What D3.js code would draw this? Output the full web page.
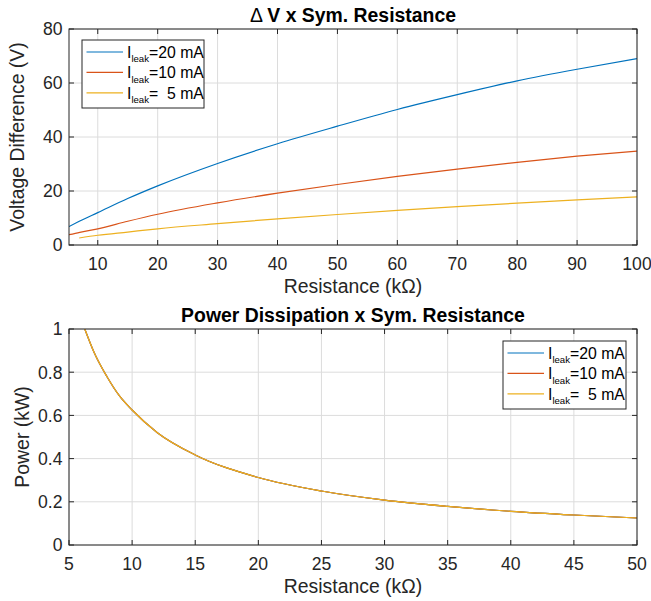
<!DOCTYPE html>
<html>
<head>
<meta charset="utf-8">
<script src="https://cdn.jsdelivr.net/npm/d3@7"></script>
<style>
  body { margin: 0; background: #fff; }
  svg { font-family: "Liberation Sans", Arial, sans-serif; }
</style>
</head>
<body>
<svg id="chart" width="651" height="601"></svg>
<script>
// top panel: voltage difference vs resistance (kOhm)
var rV = [5.2, 7, 10, 15, 20, 30, 40, 50, 60, 70, 80, 90, 100];
var v20 = [6.8, 8.9, 12.0, 17.2, 21.9, 30.2, 37.5, 44.0, 50.2, 55.7, 60.8, 65.1, 69.0];
var v10 = [3.8, 4.7, 6.0, 8.8, 11.4, 15.6, 19.2, 22.4, 25.4, 28.1, 30.6, 32.9, 34.8];
var rV5 = [6.9, 10, 15, 20, 30, 40, 50, 60, 70, 80, 90, 100];
var v5 = [2.6, 3.6, 4.8, 6.0, 7.9, 9.7, 11.3, 12.8, 14.2, 15.5, 16.7, 17.8];

// bottom panel: power (kW) vs resistance (kOhm)
var rP = [6.25, 7, 8, 9, 10, 12, 15, 20, 25, 30, 35, 40, 45, 50];
var p20 = [1.0, 0.89, 0.78, 0.69, 0.625, 0.52, 0.417, 0.3125, 0.25, 0.208, 0.179, 0.156, 0.139, 0.125];
var p10 = [1.0, 0.89, 0.78, 0.69, 0.625, 0.52, 0.417, 0.3125, 0.25, 0.208, 0.179, 0.156, 0.139, 0.125];
var p5  = [1.0, 0.89, 0.78, 0.69, 0.625, 0.52, 0.417, 0.3125, 0.25, 0.208, 0.179, 0.156, 0.139, 0.125];

var legendLabels = ["=20 mA", "=10 mA", "=  5 mA"];
var colors = ["#0072BD", "#D95319", "#EDB120"];

var topXTicks = [10, 20, 30, 40, 50, 60, 70, 80, 90, 100];
var topYTicks = [0, 20, 40, 60, 80];
var botXTicks = [5, 10, 15, 20, 25, 30, 35, 40, 45, 50];
var botYTicks = [0, 0.2, 0.4, 0.6, 0.8, 1];

var svg = d3.select("#chart");
var axisCol = "#262626";

function panel(opts) {
  var g = svg.append("g");
  var x = d3.scaleLinear().domain(opts.xDomain).range([opts.left, opts.right]);
  var y = d3.scaleLinear().domain(opts.yDomain).range([opts.bottom, opts.top]);

  // grid
  g.selectAll(".gx").data(opts.xTicks).enter().append("line")
    .attr("x1", d => x(d)).attr("x2", d => x(d))
    .attr("y1", opts.top).attr("y2", opts.bottom)
    .attr("stroke", "#dcdcdc").attr("stroke-width", 1);
  g.selectAll(".gy").data(opts.yTicks).enter().append("line")
    .attr("y1", d => y(d)).attr("y2", d => y(d))
    .attr("x1", opts.left).attr("x2", opts.right)
    .attr("stroke", "#dcdcdc").attr("stroke-width", 1);

  // clip
  var cid = "clip" + opts.id;
  svg.append("clipPath").attr("id", cid).append("rect")
    .attr("x", opts.left).attr("y", opts.top)
    .attr("width", opts.right - opts.left).attr("height", opts.bottom - opts.top);

  var line = d3.line().x(d => x(d[0])).y(d => y(d[1])).curve(d3.curveMonotoneX);
  opts.series.forEach(function(s, i) {
    var pts = s.xs.map((v, j) => [v, s.ys[j]]);
    g.append("path").attr("d", line(pts))
      .attr("fill", "none").attr("stroke", colors[i]).attr("stroke-width", 1.2)
      .attr("clip-path", "url(#" + cid + ")");
  });

  // axes (box with inward ticks)
  var tl = 5;
  var ax = g.append("g");
  ax.append("rect").attr("x", opts.left).attr("y", opts.top)
    .attr("width", opts.right - opts.left).attr("height", opts.bottom - opts.top)
    .attr("fill", "none").attr("stroke", axisCol).attr("stroke-width", 1);
  opts.xTicks.forEach(function(t) {
    ax.append("line").attr("x1", x(t)).attr("x2", x(t)).attr("y1", opts.bottom).attr("y2", opts.bottom - tl).attr("stroke", axisCol);
    ax.append("line").attr("x1", x(t)).attr("x2", x(t)).attr("y1", opts.top).attr("y2", opts.top + tl).attr("stroke", axisCol);
    ax.append("text").attr("x", x(t)).attr("y", opts.bottom + 24.5)
      .attr("text-anchor", "middle").attr("font-size", 17.6).attr("fill", axisCol).text(t);
  });
  opts.yTicks.forEach(function(t) {
    ax.append("line").attr("y1", y(t)).attr("y2", y(t)).attr("x1", opts.left).attr("x2", opts.left + tl).attr("stroke", axisCol);
    ax.append("line").attr("y1", y(t)).attr("y2", y(t)).attr("x1", opts.right).attr("x2", opts.right - tl).attr("stroke", axisCol);
    ax.append("text").attr("x", opts.left - 6.5).attr("y", y(t) + 6.3)
      .attr("text-anchor", "end").attr("font-size", 17.6).attr("fill", axisCol).text(t);
  });

  // labels
  var cx = (opts.left + opts.right) / 2;
  var tt = g.append("text").attr("x", cx).attr("y", opts.top - 7)
    .attr("text-anchor", "middle").attr("font-size", 19.4).attr("font-weight", "bold")
    .attr("fill", "#000");
  opts.title.forEach(function(part) {
    tt.append("tspan").attr("font-weight", part[1] ? "bold" : "normal")
      .attr("xml:space", "preserve").style("white-space", "pre").text(part[0]);
  });
  g.append("text").attr("x", cx).attr("y", opts.bottom + 48)
    .attr("text-anchor", "middle").attr("font-size", 19.4).attr("fill", axisCol).text(opts.xLabel);
  g.append("text")
    .attr("transform", "translate(" + opts.yLabelX + "," + (opts.top + opts.bottom) / 2 + ") rotate(-90)")
    .attr("text-anchor", "middle").attr("font-size", 19.4).attr("fill", axisCol).text(opts.yLabel);

  // legend
  var L = opts.legend;
  var lg = g.append("g");
  lg.append("rect").attr("x", L.x).attr("y", L.y).attr("width", L.w).attr("height", L.h)
    .attr("fill", "#fff").attr("stroke", axisCol).attr("stroke-width", 1);
  legendLabels.forEach(function(lab, i) {
    var yy = L.y + 12 + i * 20.4;
    lg.append("line").attr("x1", L.x + 4.5).attr("x2", L.x + 41).attr("y1", yy).attr("y2", yy)
      .attr("stroke", colors[i]).attr("stroke-width", 1.2);
    var t = lg.append("text").attr("x", L.x + 45).attr("y", yy + 6)
      .attr("font-size", 15.8).attr("fill", "#000");
    t.append("tspan").text("I");
    t.append("tspan").attr("font-size", 9.6).attr("dy", 4.3).text("leak");
    t.append("tspan").attr("dy", -4.3).attr("xml:space", "preserve").style("white-space", "pre").text(lab);
  });
}

panel({
  id: 1, left: 69, right: 637, top: 29, bottom: 245,
  xDomain: [5.2, 100], yDomain: [0, 80],
  xTicks: topXTicks, yTicks: topYTicks,
  series: [{xs: rV, ys: v20}, {xs: rV, ys: v10}, {xs: rV5, ys: v5}],
  title: [["\u0394 ", false], ["V x Sym. Resistance", true]],
  xLabel: "Resistance (k\u03A9)", yLabel: "Voltage Difference (V)", yLabelX: 24,
  legend: {x: 82, y: 40, w: 122, h: 68}
});

panel({
  id: 2, left: 69, right: 637, top: 329, bottom: 545,
  xDomain: [5, 50], yDomain: [0, 1],
  xTicks: botXTicks, yTicks: botYTicks,
  series: [{xs: rP, ys: p20}, {xs: rP, ys: p10}, {xs: rP, ys: p5}],
  title: [["Power Dissipation x Sym. Resistance", true]],
  xLabel: "Resistance (k\u03A9)", yLabel: "Power (kW)", yLabelX: 29,
  legend: {x: 503, y: 341, w: 123, h: 68}
});
</script>
</body>
</html>
